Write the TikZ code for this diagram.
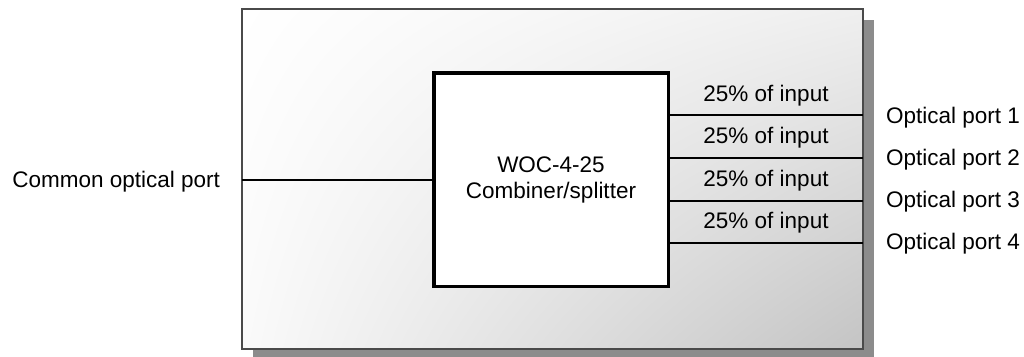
\documentclass[tikz,border=0pt]{standalone}
\usepackage{fontspec}
\setmainfont{Liberation Sans}
\usetikzlibrary{shadings}
\definecolor{frameedge}{HTML}{4A4A4A}
\definecolor{shadowgray}{HTML}{8C8C8C}
\definecolor{shadeUR}{HTML}{EFEFEF}
\definecolor{shadeLL}{HTML}{FAFAFA}
\definecolor{shadeLR}{HTML}{C4C4C4}
\begin{document}
\begin{tikzpicture}[x=1pt,y=-1pt,
  every node/.style={font=\fontsize{22.5}{26}\selectfont, inner sep=0pt, outer sep=0pt},
  framebox/.style={draw=frameedge, line width=1.2pt, minimum width=621, minimum height=340,
    upper left=white, upper right=shadeUR, lower left=shadeLL, lower right=shadeLR},
  shadowbox/.style={fill=shadowgray, draw=none, minimum width=621, minimum height=340},
  devbox/.style={draw=black, fill=white, line width=3.5pt, minimum width=234.5, minimum height=213.5, align=center},
  wire/.style={draw=black, line width=2pt},
  lbl/.style={anchor=base}
]
\useasboundingbox (0,0) rectangle (1024,356);
\clip (0,0) rectangle (1024,356);
% shadow and frame
\node[shadowbox] (shadow) at (563.5,189.5) {};
\node[framebox] (frame) at (552.5,179) {};
% device
\node[devbox] (box) at (551,179.5) {WOC-4-25\\Combiner/splitter};
% common port
\coordinate (c0) at (242,180);
\draw[wire] (c0) -- (c0 -| box.west);
\node[anchor=base east] (common) at (220,187) {Common optical port};
% outputs
\coordinate (o1) at (863,115);
\coordinate (o2) at (863,158);
\coordinate (o3) at (863,201);
\coordinate (o4) at (863,243);
\draw[wire] (o1 -| box.east) -- (o1);
\draw[wire] (o2 -| box.east) -- (o2);
\draw[wire] (o3 -| box.east) -- (o3);
\draw[wire] (o4 -| box.east) -- (o4);
\node[lbl] (p1) at (766,101) {25\% of input};
\node[lbl] (p2) at (766,143) {25\% of input};
\node[lbl] (p3) at (766,186) {25\% of input};
\node[lbl] (p4) at (766,228) {25\% of input};
\node[anchor=base west] (op1) at (886,123) {Optical port 1};
\node[anchor=base west] (op2) at (886,165) {Optical port 2};
\node[anchor=base west] (op3) at (886,207) {Optical port 3};
\node[anchor=base west] (op4) at (886,249) {Optical port 4};
\end{tikzpicture}
\end{document}
